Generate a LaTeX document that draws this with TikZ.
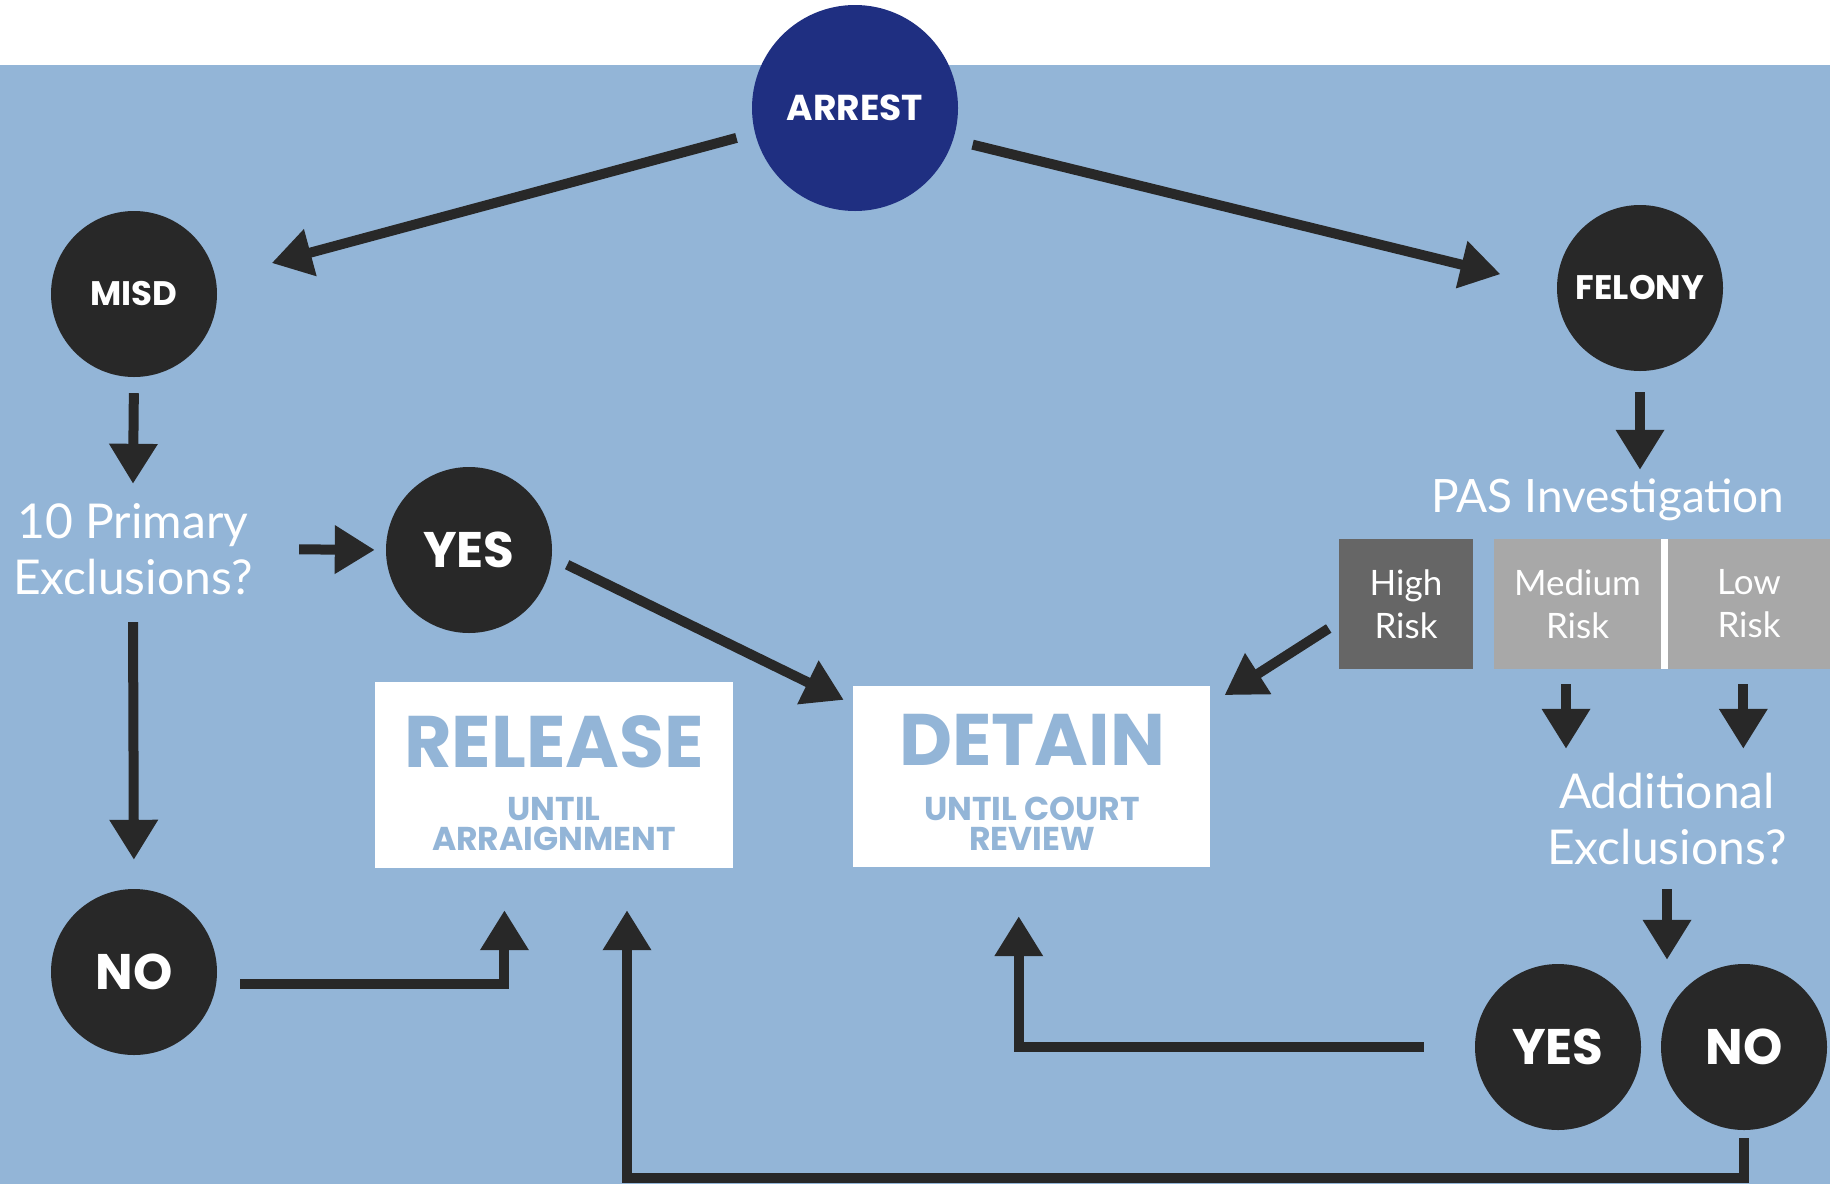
\documentclass[tikz,border=0pt]{standalone}
\usepackage{fontspec}
\setmainfont{Lato}
\newfontfamily\heavyfont{Poppins}
\usetikzlibrary{arrows.meta}

\definecolor{sky}{HTML}{93B5D7}
\definecolor{navy}{HTML}{1F2F81}
\definecolor{ink}{HTML}{282828}
\definecolor{riskhigh}{HTML}{666666}
\definecolor{risklow}{HTML}{A8A8A8}

\tikzset{
  bubble/.style={circle, fill=ink, minimum size=166pt, inner sep=0pt, text=white, font=\heavyfont\bfseries\fontsize{34}{34}\selectfont},
  answer/.style={bubble, font=\heavyfont\bfseries\fontsize{50}{50}\selectfont},
  question/.style={text=white, align=center, inner sep=0pt, font=\fontsize{48}{56}\selectfont},
  riskbox/.style={minimum height=130pt, inner sep=0pt, text=white, align=center, font=\fontsize{35}{43}\selectfont},
  outcome/.style={fill=white, inner sep=0pt, minimum width=358pt},
  bigword/.style={inner sep=0pt, text=sky, font=\heavyfont\bfseries\fontsize{73}{73}\selectfont},
  smallword/.style={inner sep=0pt, text=sky, font=\heavyfont\bfseries\fontsize{33}{33}\selectfont},
  flow/.style={draw=ink, line width=10pt, -{Triangle[length=40pt,width=46pt]}},
}

\begin{document}
\begin{tikzpicture}[x=1pt, y=-1pt]
\useasboundingbox (0, 0) rectangle (1830, 1184);
\fill [white] (0, 0) rectangle (1830, 65);
\fill [sky] (0, 65) rectangle (1830, 1184);

\node (arrest) [bubble, fill=navy, minimum size=206pt, font=\heavyfont\bfseries\fontsize{36}{36}\selectfont] at (855, 108) {ARREST};
\node (misd) [bubble] at (134, 294) {MISD};
\node (felony) [bubble] at (1640, 288) {FELONY};
\node (yesA) [answer] at (469, 550) {YES};
\node (noA) [answer] at (134, 972) {NO};
\node (yesB) [answer] at (1558, 1047) {YES};
\node (noB) [answer] at (1744, 1047) {NO};

\node (primary) [question, minimum width=250pt, minimum height=130pt] at (133, 549) {10 Primary\\Exclusions?};
\node (pas) [question, minimum height=60pt, font=\fontsize{46}{46}\selectfont] at (1608, 500) {PAS Investigation};
\node (additional) [question, minimum height=140pt] at (1667, 819) {Additional\\Exclusions?};

\node (high) [riskbox, fill=riskhigh, minimum width=134pt] at (1406, 604) {High\\Risk};
\node (medium) [riskbox, fill=risklow, minimum width=167pt] at (1577.5, 604) {Medium\\Risk};
\node (low) [riskbox, fill=risklow, minimum width=162pt] at (1749, 604) {Low\\Risk};
\fill [white] (medium.north east) rectangle (low.south west);

\node (release) [outcome, minimum height=186pt] at (554, 775) {};
\node (releaseword) [bigword] at (554, 742) {RELEASE};
\node (releaseuntil) [smallword] at (554, 809) {UNTIL};
\node (releasenote) [smallword] at (554, 839) {ARRAIGNMENT};
\node (detain) [outcome, minimum width=357pt, minimum height=181pt] at (1031.5, 776.5) {};
\node (detainword) [bigword] at (1032, 740) {DETAIN};
\node (detainuntil) [smallword] at (1032, 809) {UNTIL COURT};
\node (detainnote) [smallword] at (1032, 839) {REVIEW};

\coordinate (base) at (627, 1178);

\draw [flow, shorten <=19pt, shorten >=58pt] (arrest.194) -- (misd.11);
\draw [flow, shorten <=20pt, shorten >=58pt] (arrest.-18) -- (felony.180);
\draw [flow, shorten <=16pt] (misd.south) -- (primary.north);
\draw [flow, shorten <=41pt, shorten >=11pt] (primary.east) -- (yesA.west);
\draw [flow, shorten <=8pt, shorten >=29pt] (primary.south) -- (noA.north);
\draw [flow, shorten <=17pt, shorten >=10pt] (yesA.-5) -- (detain.158);
\draw [flow, shorten <=21pt] (felony.south) -- (felony.south |- pas.north);
\draw [flow, shorten <=12pt, shorten >=17pt] (high.195) -- (detain.22);
\draw [flow, shorten <=15pt] (medium.-100) -- (medium.-100 |- additional.north);
\draw [flow, shorten <=15pt] (low.-95) -- (low.-95 |- additional.north);
\draw [flow, shorten >=4pt] (additional.south) -- (additional.south |- yesB.north);
\draw [flow, shorten <=24pt, shorten >=42pt] (noA.-8) -| (release.-118);
\draw [flow, shorten <=8pt, shorten >=42pt] (noB.south) |- (base) -- (base |- release.south);
\draw [flow, shorten <=51pt, shorten >=49pt] (yesB.west) -| (detain.-98);
\end{tikzpicture}
\end{document}
